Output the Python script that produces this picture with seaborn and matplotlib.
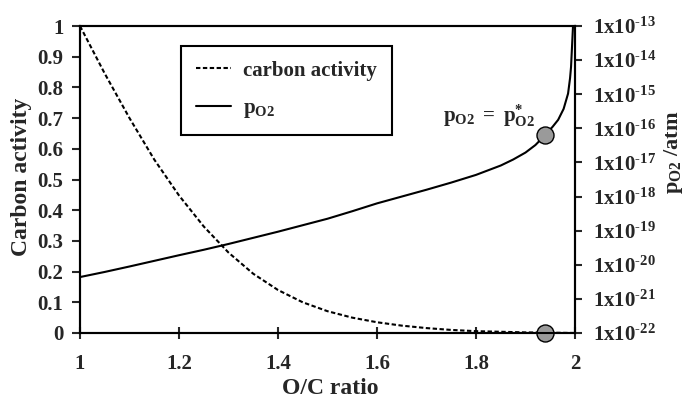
import numpy as np
import pandas as pd
import matplotlib
matplotlib.use("Agg")
import matplotlib.pyplot as plt
import seaborn as sns
from matplotlib.ticker import FixedLocator, FixedFormatter, NullLocator

# ---------------- data ----------------
oc_activity = [1.00, 1.05, 1.10, 1.15, 1.20, 1.25, 1.30, 1.35, 1.40, 1.45, 1.50,
               1.55, 1.60, 1.65, 1.70, 1.75, 1.80, 1.85, 1.90, 1.95, 2.00]
carbon_activity = [1.000, 0.845, 0.700, 0.565, 0.448, 0.347, 0.262, 0.193, 0.140,
                   0.100, 0.071, 0.050, 0.035, 0.024, 0.016, 0.010, 0.006, 0.004,
                   0.002, 0.001, 0.000]

oc_po2 = [1.00, 1.05, 1.10, 1.15, 1.20, 1.25, 1.30, 1.35, 1.40, 1.45, 1.50, 1.55,
          1.60, 1.65, 1.70, 1.75, 1.80, 1.85, 1.875, 1.90, 1.92, 1.94, 1.955, 1.966,
          1.977, 1.986, 1.990, 1.992, 1.9945, 1.996]
log10_po2 = [-20.36, -20.21, -20.05, -19.885, -19.72, -19.56, -19.39, -19.21,
             -19.03, -18.84, -18.65, -18.43, -18.20, -18.00, -17.80, -17.59,
             -17.365, -17.09, -16.915, -16.71, -16.49, -16.195, -15.95, -15.75,
             -15.43, -14.98, -14.53, -14.20, -13.45, -13.00]
po2 = [10.0 ** v for v in log10_po2]

star_x = [1.94]
star_log10_po2 = [-16.195]
star_activity = [0.0]

x_ticks = [1.0, 1.2, 1.4, 1.6, 1.8, 2.0]
x_ticklabels = ["1", "1.2", "1.4", "1.6", "1.8", "2"]
y_ticks = [0.0, 0.1, 0.2, 0.3, 0.4, 0.5, 0.6, 0.7, 0.8, 0.9, 1.0]
y_ticklabels = ["0", "0.1", "0.2", "0.3", "0.4", "0.5", "0.6", "0.7", "0.8", "0.9", "1"]
po2_exponents = [-22, -21, -20, -19, -18, -17, -16, -15, -14, -13]

# ---------------- style ----------------
sns.set_theme(style="ticks")
plt.rcParams["font.family"] = ["Liberation Serif", "DejaVu Serif"]
plt.rcParams["font.weight"] = "bold"
plt.rcParams["mathtext.fontset"] = "custom"
plt.rcParams["mathtext.rm"] = "Liberation Serif:bold"
plt.rcParams["mathtext.bf"] = "Liberation Serif:bold"
plt.rcParams["mathtext.it"] = "Liberation Serif:italic:bold"
plt.rcParams["mathtext.sf"] = "Liberation Serif"
plt.rcParams["axes.linewidth"] = 1.5

fig = plt.figure(figsize=(6.86, 4.03), dpi=100)
ax = fig.add_axes([80 / 686, 1 - 333 / 403, 495 / 686, 307 / 403])
ax2 = ax.twinx()

dash = (0, (2.1, 1.2))
sns.lineplot(x=oc_activity, y=carbon_activity, ax=ax, color="black", lw=1.5,
             linestyle=dash, legend=False, label="carbon activity")
sns.lineplot(x=oc_po2, y=po2, ax=ax2, color="black", lw=1.5, legend=False,
             label=r"$\mathrm{p_{O2}}$")

ax.set_xlim(1.0, 2.0)
ax.set_ylim(0.0, 1.0)
ax2.set_yscale("log")
ax2.set_ylim(1e-22, 1e-13)

# markers
sns.scatterplot(x=star_x, y=[10.0 ** v for v in star_log10_po2], ax=ax2, s=150,
                color="#9a9a9a", edgecolor="black", linewidth=1.0, zorder=5,
                clip_on=False, legend=False)
sns.scatterplot(x=star_x, y=star_activity, ax=ax, s=150,
                color="#9a9a9a", edgecolor="black", linewidth=1.0, zorder=5,
                clip_on=False, legend=False)

# ticks
ax.xaxis.set_major_locator(FixedLocator(x_ticks))
ax.xaxis.set_major_formatter(FixedFormatter(x_ticklabels))
ax.yaxis.set_major_locator(FixedLocator(y_ticks))
ax.yaxis.set_major_formatter(FixedFormatter(y_ticklabels))
ax.tick_params(axis="y", direction="out", length=6, width=1.5, pad=6, labelsize=15)
ax.tick_params(axis="x", direction="inout", length=8, width=1.5, pad=11, labelsize=15)

ax2.yaxis.set_major_locator(FixedLocator([10.0 ** e for e in po2_exponents]))
ax2.yaxis.set_major_formatter(FixedFormatter(
    ["1x10$^{\\text{%d}}$" % e for e in po2_exponents]))
ax2.yaxis.set_minor_locator(NullLocator())
ax2.tick_params(axis="y", direction="out", length=5, width=1.5, pad=8, labelsize=15)

for a in (ax, ax2):
    for s in a.spines.values():
        s.set_visible(True)
        s.set_linewidth(1.5)
        s.set_color("black")
for lab in ax.get_xticklabels() + ax.get_yticklabels() + ax2.get_yticklabels():
    lab.set_fontweight("bold")

# labels
ax.set_xlabel("O/C ratio", fontsize=17, fontweight="bold")
ax.set_ylabel("Carbon activity", fontsize=17, fontweight="bold")
ax2.set_ylabel(r"$\mathrm{p_{O2}}$ /atm", fontsize=16, fontweight="bold", rotation=90)
ax.xaxis.set_label_coords(0.505, -0.147)
ax.yaxis.set_label_coords(-0.097, 0.51)
ax2.yaxis.set_label_coords(1.176, 0.59)

# annotation
ax2.text(1.919, 10.0 ** -15.62, r"$\mathsf{p_{O2}\ =\ p^{*}_{O2}}$", fontsize=15,
         ha="right", va="center", fontweight="normal")

# legend
h1, l1 = ax.get_legend_handles_labels()
h2, l2 = ax2.get_legend_handles_labels()
leg = ax2.legend(h1[:1] + h2[:1], l1[:1] + l2[:1], loc="upper left",
                 bbox_to_anchor=(0.204, 0.935), borderaxespad=0, frameon=True,
                 fancybox=False, shadow=False, handlelength=1.7,
                 handletextpad=0.6, labelspacing=0.85, borderpad=0.7,
                 prop={"weight": "bold", "size": 15})
leg.get_frame().set_edgecolor("black")
leg.get_frame().set_linewidth(1.5)
leg.get_frame().set_alpha(1)

fig.savefig("out.png", dpi=100)
